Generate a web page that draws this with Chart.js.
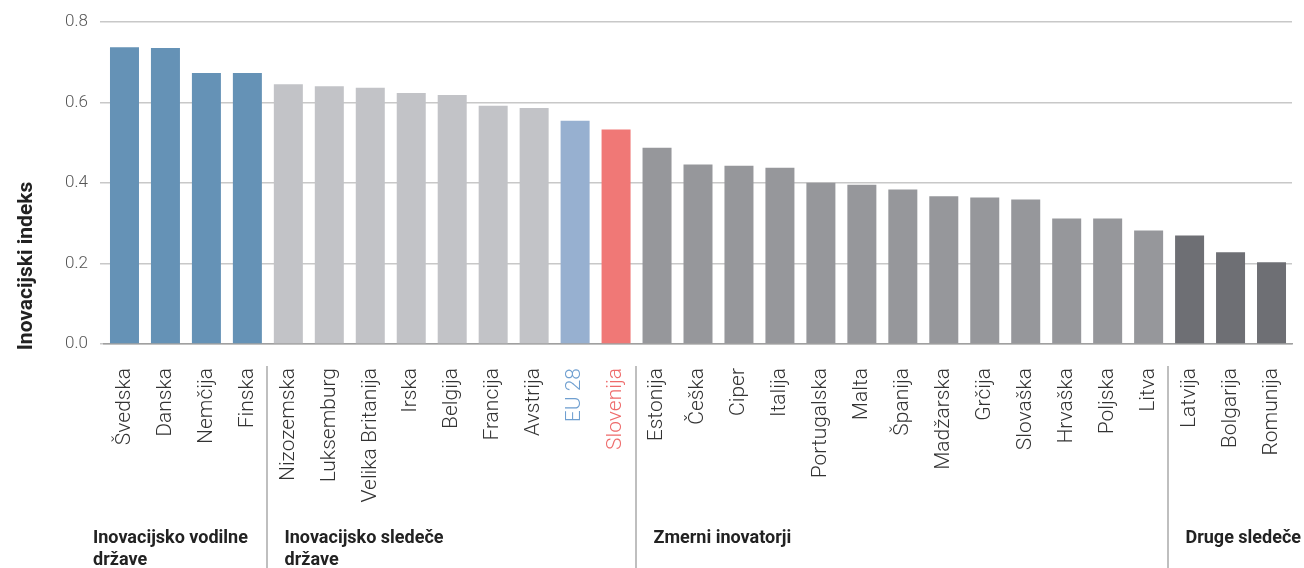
<!DOCTYPE html>
<html lang="sl">
<head>
<meta charset="utf-8">
<title>Inovacijski indeks</title>
<script src="https://cdn.jsdelivr.net/npm/chart.js@4.4.1/dist/chart.umd.min.js"></script>
<style>
  html, body { margin: 0; padding: 0; background: #fff; }
  #graphique { display: block; }
</style>
</head>
<body>
<canvas id="graphique" width="1304" height="568"></canvas>
<script>
// ============================================================
//  Inovacijski indeks po državah — histogramme Chart.js
// ============================================================

/* ── Données ────────────────────────────────────────────── */
const pays = [
    'Švedska', 'Danska', 'Nemčija', 'Finska',
    'Nizozemska', 'Luksemburg', 'Velika Britanija', 'Irska', 'Belgija', 'Francija', 'Avstrija', 'EU 28', 'Slovenija',
    'Estonija', 'Češka', 'Ciper', 'Italija', 'Portugalska', 'Malta', 'Španija', 'Madžarska', 'Grčija', 'Slovaška', 'Hrvaška', 'Poljska', 'Litva',
    'Latvija', 'Bolgarija', 'Romunija'
];
const indices = [
    0.738, 0.736, 0.674, 0.674,
    0.646, 0.641, 0.637, 0.624, 0.619, 0.592, 0.587, 0.555, 0.533,
    0.488, 0.446, 0.443, 0.438, 0.401, 0.396, 0.384, 0.367, 0.364, 0.359, 0.312, 0.312, 0.282,
    0.270, 0.228, 0.203
];
// statut de chaque barre (sert au choix de la couleur)
const statut = [
    'vodilne', 'vodilne', 'vodilne', 'vodilne',
    'sledece', 'sledece', 'sledece', 'sledece', 'sledece', 'sledece', 'sledece', 'eu', 'slo',
    'zmerni', 'zmerni', 'zmerni', 'zmerni', 'zmerni', 'zmerni', 'zmerni', 'zmerni', 'zmerni', 'zmerni', 'zmerni', 'zmerni', 'zmerni',
    'druge', 'druge', 'druge'
];
const groupeTitres = [
    ['Inovacijsko vodilne', 'države'],
    ['Inovacijsko sledeče', 'države'],
    ['Zmerni inovatorji'],
    ['Druge sledeče']
];
const groupeDebuts = [0, 4, 13, 26];
const ticksY = [0, 0.2, 0.4, 0.6, 0.8];
const titreY = 'Inovacijski indeks';

/* ── Styles ─────────────────────────────────────────────── */
const couleursBarres = {
    vodilne: '#6592b6',
    sledece: '#c2c3c7',
    eu:      '#97b0d0',
    slo:     '#f07876',
    zmerni:  '#96979b',
    druge:   '#6e6f74'
};
const couleursTextes = { eu: '#6f9fd0', slo: '#ee6b6b' };
const POLICE = 'Roboto, "Noto Sans", sans-serif';

/* ── Plugin : titre Y, séparateurs et noms de groupes ───── */
const decorGroupes = {
    id: 'decorGroupes',
    afterDraw(chart) {
        const { ctx, chartArea, scales: { x } } = chart;
        ctx.save();

        // Titre vertical de l'axe Y
        ctx.save();
        ctx.translate(32, 266);
        ctx.rotate(-Math.PI / 2);
        ctx.font = `bold 21px ${POLICE}`;
        ctx.fillStyle = '#222';
        ctx.textAlign = 'center';
        ctx.textBaseline = 'alphabetic';
        ctx.fillText(titreY, 0, 0);
        ctx.restore();

        ctx.font = `bold 18px ${POLICE}`;
        ctx.fillStyle = '#222';
        ctx.textAlign = 'left';
        ctx.textBaseline = 'alphabetic';
        ctx.strokeStyle = '#aaaaaa';
        ctx.lineWidth = 1.5;

        groupeDebuts.forEach((debut, i) => {
            let xg;
            if (i === 0) {
                xg = chartArea.left - 11;
            } else {
                const sep = Math.round((x.getPixelForValue(debut - 1) + x.getPixelForValue(debut)) / 2) - 1;
                ctx.beginPath();
                ctx.moveTo(sep, 366);
                ctx.lineTo(sep, chart.height);
                ctx.stroke();
                xg = sep + 17.5;
            }
            groupeTitres[i].forEach((ligne, k) => ctx.fillText(ligne, xg, 543 + k * 22));
        });

        ctx.restore();
    }
};

/* ── Graphique ──────────────────────────────────────────── */
new Chart(document.getElementById('graphique'), {
    type: 'bar',
    data: {
        labels: pays,
        datasets: [{
            data: indices,
            backgroundColor: statut.map(s => couleursBarres[s]),
            borderWidth: 0,
            barPercentage: 0.708,
            categoryPercentage: 1
        }]
    },
    options: {
        responsive: false,
        animation: false,
        layout: { padding: { top: 21, right: 12, bottom: 0, left: 0 } },
        plugins: {
            legend: { display: false },
            tooltip: { enabled: false }
        },
        scales: {
            x: {
                grid: { display: false, drawTicks: false },
                border: { display: true, color: '#a0a0a0', width: 1.5 },
                ticks: {
                    autoSkip: false,
                    minRotation: 90,
                    maxRotation: 90,
                    padding: 24,
                    font: { family: POLICE, size: 21, weight: '300' },
                    color: statut.map(s => couleursTextes[s] || '#333333')
                },
                afterFit: scale => {
                    scale.height = 224;
                    scale.paddingLeft = 0;
                    scale.paddingRight = 0;
                }
            },
            y: {
                min: 0,
                max: 0.8,
                afterBuildTicks: scale => { scale.ticks = ticksY.map(v => ({ value: v })); },
                grid: { color: '#c8c8c8', lineWidth: 1.5, tickLength: 4 },
                border: { display: false },
                ticks: {
                    padding: 12,
                    font: { family: POLICE, size: 17, weight: '300' },
                    color: '#555555',
                    callback: v => v.toFixed(1)
                },
                afterFit: scale => { scale.width = 104; }
            }
        }
    },
    plugins: [decorGroupes]
});
</script>
</body>
</html>
